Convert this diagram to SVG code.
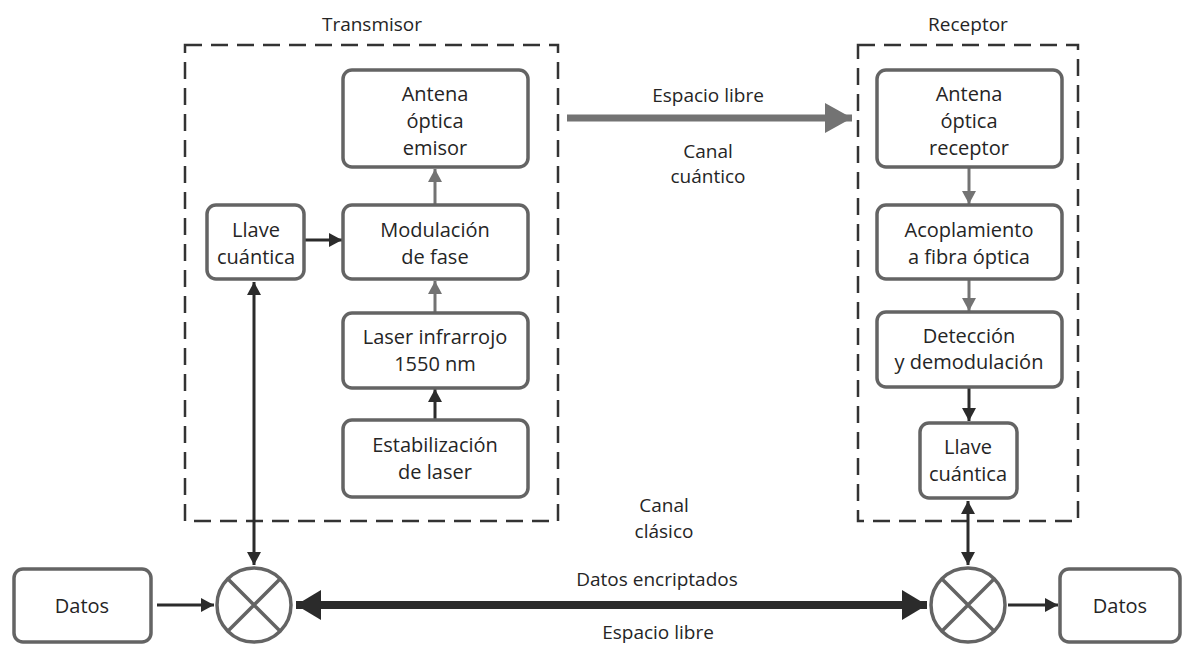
<svg xmlns="http://www.w3.org/2000/svg" width="1192" height="645" viewBox="0 0 1192 645">
<style>
.bg{fill:#ffffff}
.frame{fill:none;stroke:#333;stroke-width:2.5;stroke-dasharray:17 9}
.box{fill:#fff;stroke:#646464;stroke-width:3.5}
.t{font-family:"Open Sans","Noto Sans","DejaVu Sans",sans-serif;font-size:20px;font-weight:500;fill:#252525;text-anchor:middle}
.lbl{font-family:"Open Sans","Noto Sans","DejaVu Sans",sans-serif;font-size:19px;font-weight:500;fill:#252525;text-anchor:middle}
.dark{fill:none;stroke:#2b2b2b;stroke-width:3}
.gray{fill:none;stroke:#737373;stroke-width:3}
.mix{fill:#fff;stroke:#646464;stroke-width:3.5}
</style>
<defs>
<marker id="ahd" markerUnits="userSpaceOnUse" markerWidth="14" markerHeight="14" refX="13" refY="7" orient="auto-start-reverse"><path d="M0,0 L13,7 L0,14 Z" fill="#2b2b2b"/></marker>
<marker id="ahg" markerUnits="userSpaceOnUse" markerWidth="14" markerHeight="14" refX="13" refY="7" orient="auto-start-reverse"><path d="M0,0 L13,7 L0,14 Z" fill="#737373"/></marker>
<marker id="ahbg" markerUnits="userSpaceOnUse" markerWidth="27" markerHeight="30" refX="27" refY="15" orient="auto"><path d="M0,0 L27,15 L0,30 Z" fill="#737373"/></marker>
<marker id="ahbd" markerUnits="userSpaceOnUse" markerWidth="25" markerHeight="30" refX="25" refY="15" orient="auto-start-reverse"><path d="M0,0 L25,15 L0,30 Z" fill="#2b2b2b"/></marker>
</defs>
<rect class="bg" x="0" y="0" width="1192" height="645"/>

<g id="transmisor">
<rect class="frame" x="185" y="45" width="373" height="476"/>
<text class="lbl" x="372" y="31">Transmisor</text>
</g>
<g id="receptor">
<rect class="frame" x="858" y="45" width="220" height="476"/>
<text class="lbl" x="968" y="31">Receptor</text>
</g>

<g id="connectors">
<line class="dark" x1="305" y1="240" x2="342" y2="240" marker-end="url(#ahd)"/>
<line class="gray" x1="435" y1="205" x2="435" y2="169" marker-end="url(#ahg)"/>
<line class="gray" x1="435" y1="313" x2="435" y2="281" marker-end="url(#ahg)"/>
<line class="dark" x1="435" y1="420" x2="435" y2="389" marker-end="url(#ahd)"/>
<line class="dark" x1="254" y1="282" x2="254" y2="565" marker-start="url(#ahd)" marker-end="url(#ahd)"/>
<line x1="567" y1="118" x2="852" y2="118" stroke="#737373" stroke-width="7" marker-end="url(#ahbg)"/>
<line class="gray" x1="969" y1="168" x2="969" y2="204" marker-end="url(#ahg)"/>
<line class="gray" x1="969" y1="280" x2="969" y2="311" marker-end="url(#ahg)"/>
<line class="dark" x1="969" y1="388" x2="969" y2="421" marker-end="url(#ahd)"/>
<line class="dark" x1="968" y1="501" x2="968" y2="565" marker-start="url(#ahd)" marker-end="url(#ahd)"/>
<line x1="296" y1="605" x2="927" y2="605" stroke="#2b2b2b" stroke-width="8" marker-start="url(#ahbd)" marker-end="url(#ahbd)"/>
<line class="dark" x1="157" y1="605" x2="214" y2="605" marker-end="url(#ahd)"/>
<line class="dark" x1="1008" y1="605" x2="1058" y2="605" marker-end="url(#ahd)"/>
<text class="lbl" x="708" y="102">Espacio libre</text>
<text class="lbl" x="708" y="158">Canal</text>
<text class="lbl" x="708" y="183">cuántico</text>
<text class="lbl" x="664" y="512">Canal</text>
<text class="lbl" x="664" y="538">clásico</text>
<text class="lbl" x="657" y="586">Datos encriptados</text>
<text class="lbl" x="658" y="639">Espacio libre</text>
</g>

<g id="antena-emisor">
<rect class="box" x="343" y="70" width="185" height="97" rx="9"/>
<text class="t" x="435" y="101">Antena</text>
<text class="t" x="435" y="128">óptica</text>
<text class="t" x="435" y="155">emisor</text>
</g>
<g id="llave-tx">
<rect class="box" x="207" y="205" width="97" height="74" rx="9"/>
<text class="t" x="256" y="237">Llave</text>
<text class="t" x="256" y="264">cuántica</text>
</g>
<g id="modulacion">
<rect class="box" x="343" y="205" width="185" height="74" rx="9"/>
<text class="t" x="435" y="237">Modulación</text>
<text class="t" x="435" y="264">de fase</text>
</g>
<g id="laser">
<rect class="box" x="343" y="313" width="185" height="75" rx="9"/>
<text class="t" x="435" y="344">Laser infrarrojo</text>
<text class="t" x="435" y="371">1550 nm</text>
</g>
<g id="estabilizacion">
<rect class="box" x="343" y="420" width="185" height="77" rx="9"/>
<text class="t" x="435" y="452">Estabilización</text>
<text class="t" x="435" y="479">de  laser</text>
</g>

<g id="antena-receptor">
<rect class="box" x="877" y="70" width="185" height="97" rx="9"/>
<text class="t" x="969" y="101">Antena</text>
<text class="t" x="969" y="128">óptica</text>
<text class="t" x="969" y="155">receptor</text>
</g>
<g id="acoplamiento">
<rect class="box" x="877" y="205" width="185" height="74" rx="9"/>
<text class="t" x="969" y="237">Acoplamiento</text>
<text class="t" x="969" y="264">a fibra  óptica</text>
</g>
<g id="deteccion">
<rect class="box" x="877" y="312" width="185" height="75" rx="9"/>
<text class="t" x="969" y="343">Detección</text>
<text class="t" x="969" y="369">y  demodulación</text>
</g>
<g id="llave-rx">
<rect class="box" x="920" y="423" width="97" height="75" rx="9"/>
<text class="t" x="968" y="454">Llave</text>
<text class="t" x="968" y="481">cuántica</text>
</g>

<g id="datos-in">
<rect class="box" x="14" y="569" width="137" height="73" rx="9"/>
<text class="t" x="82" y="613">Datos</text>
</g>
<g id="mixer-tx">
<circle class="mix" cx="254" cy="605" r="37"/>
<path d="M228,579 L280,631 M280,579 L228,631" stroke="#646464" stroke-width="3.5"/>
</g>
<g id="mixer-rx">
<circle class="mix" cx="968" cy="605" r="37"/>
<path d="M942,579 L994,631 M994,579 L942,631" stroke="#646464" stroke-width="3.5"/>
</g>
<g id="datos-out">
<rect class="box" x="1060" y="569" width="120" height="73" rx="9"/>
<text class="t" x="1120" y="613">Datos</text>
</g>
</svg>
